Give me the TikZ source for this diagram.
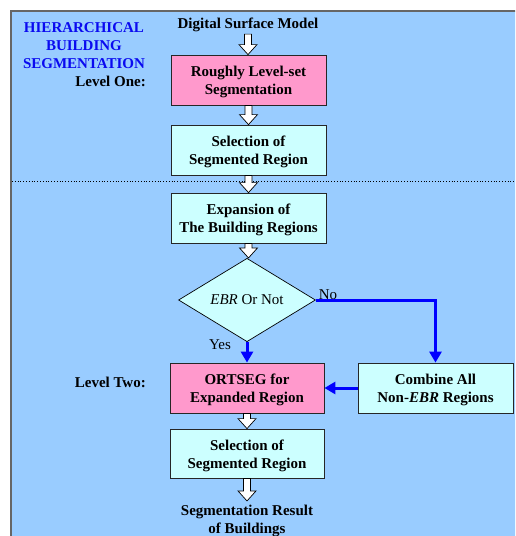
\documentclass[tikz,border=0pt]{standalone}
\usepackage{fontspec}
\setmainfont{Liberation Serif}
\usetikzlibrary{shapes.geometric,arrows.meta,calc}
\definecolor{bgblue}{HTML}{99CCFF}
\definecolor{pinkbox}{HTML}{FF99CC}
\definecolor{cyanbox}{HTML}{CCFFFF}
\definecolor{titleblue}{HTML}{0A0AF0}
\definecolor{flowblue}{HTML}{0000FF}
\tikzset{
  box/.style={draw=black!85, line width=0.8pt, minimum width=155pt, minimum height=50pt,
    inner sep=0pt},
  boxtext/.style={inner sep=0pt, align=center, yshift=-2pt, font=\fontsize{15}{18}\selectfont\bfseries},
  pinkstep/.style={box, fill=pinkbox},
  cyanstep/.style={box, fill=cyanbox},
  plaintext/.style={inner sep=2pt, align=center, font=\fontsize{15}{18}\selectfont\bfseries},
  hollowarr/.style={draw=black, fill=white, line width=0.7pt, to path={
    let \p1=(\tikztostart), \p2=(\tikztotarget) in
    (\x1-3.5pt,\y1) -- (\x1-3.5pt,\y2+10pt) -- (\x1-9pt,\y2+10pt) -- (\x1,\y2)
    -- (\x1+9pt,\y2+10pt) -- (\x1+3.5pt,\y2+10pt) -- (\x1+3.5pt,\y1) -- cycle}},
  bluearr/.style={draw=flowblue, line width=3pt, -{Triangle[length=11pt,width=12pt]}}
}
\begin{document}
\begin{tikzpicture}[x=1pt,y=-1pt]
\useasboundingbox (0,0) rectangle (515,536);
\clip (0,0) rectangle (515,536);
\draw[fill=bgblue, draw=black!60, line width=1.5pt] (11,11) rectangle (530,550);
\draw[dotted, line width=0.8pt] (12,181) -- (515,181);

\node[plaintext, text=titleblue] (title) at (84,46) {HIERARCHICAL\\BUILDING\\SEGMENTATION};
\node[plaintext, anchor=east] (lvl1) at (148,81) {Level One:};
\node[plaintext, anchor=east] (lvl2) at (148,382) {Level Two:};

\node[plaintext] (dsm) at (248,25) {Digital Surface Model};
\node[pinkstep, label={[boxtext]center:{Roughly Level-set\\Segmentation}}] (b1) at (248.5,80) {};
\node[cyanstep, label={[boxtext]center:{Selection of\\Segmented Region}}] (b2) at (248.5,150) {};
\node[cyanstep, label={[boxtext]center:{Expansion of\\The Building Regions}}] (b3) at (248.5,218) {};
\node[diamond, draw=black, line width=0.7pt, fill=cyanbox, minimum width=137pt, minimum height=82pt,
  inner sep=0pt, font=\fontsize{15}{18}\selectfont] (d) at (247,300) {\raisebox{-1.5pt}{\textit{EBR} Or Not}};
\node[pinkstep, minimum width=154pt, label={[boxtext]center:{ORTSEG for\\Expanded Region}}] (b4) at (247,388) {};
\node[cyanstep, label={[boxtext]center:{Combine All\\Non-\textit{EBR} Regions}}] (b5) at (435.5,388) {};
\node[cyanstep, minimum width=154pt, minimum height=49pt, label={[boxtext]center:{Selection of\\Segmented Region}}] (b6) at (247,453.5) {};
\node[plaintext] (res) at (247,521) {Segmentation Result\\of Buildings};

\node[font=\fontsize{15}{18}\selectfont, inner sep=0pt] (yes) at (220,345) {Yes};
\node[font=\fontsize{15}{18}\selectfont, inner sep=0pt] (no) at (328,295) {No};

\draw[hollowarr] (dsm.south) to (b1.north);
\draw[hollowarr] (b1.south) to (b2.north);
\draw[hollowarr] (b2.south) to (b3.north);
\draw[hollowarr] (b3.south) to (d.north);
\draw[hollowarr] (b4.south) to (b6.north);
\draw[hollowarr] (b6.south) to ([yshift=2pt]res.north);

\draw[bluearr] (d.east) -- (b5.north |- d.east) -- (b5.north);
\draw[bluearr] (d.south) -- (b4.north);
\draw[bluearr] (b5.west) -- (b4.east);
\end{tikzpicture}
\end{document}
